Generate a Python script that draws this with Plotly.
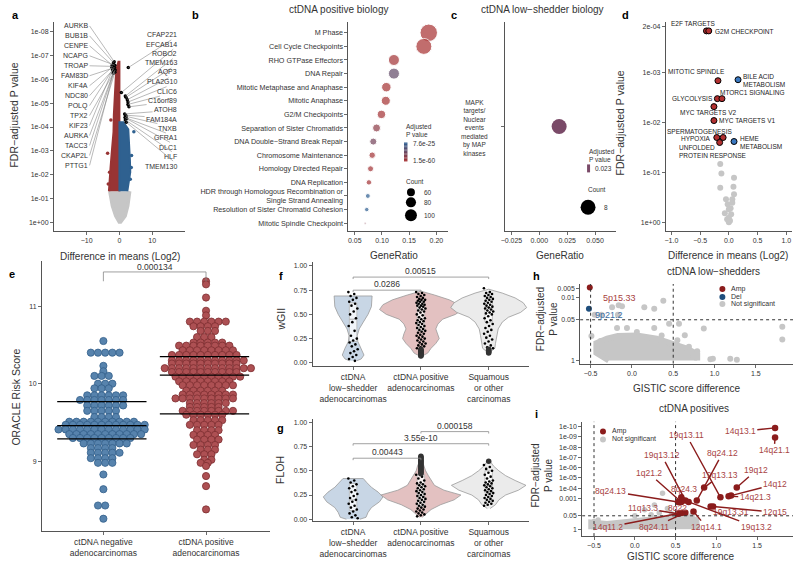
import plotly.graph_objects as go

W, H = 800, 570
FONT = "Liberation Sans"
INK = "#2b2b2b"
TXT = "#333333"
RED = "#983434"
BLUE = "#2f6190"
GREY = "#c6c6c6"

# ======================= DATA =======================
# a: volcano (difference in means log2 vs -log10 FDR)
a_red_edge_y = [1.3, 1.6, 2.3, 3.0, 3.8, 4.5, 5.1, 5.7, 6.1, 6.5, 6.75]
a_red_edge_x = [-3.2, -3.0, -2.7, -2.3, -1.8, -1.7, -1.5, -1.3, -1.1, -0.8, -0.3]
a_blue_edge_y = [1.3, 1.8, 2.1, 2.6, 3.05, 3.5, 3.9, 4.2]
a_blue_edge_x = [2.4, 3.0, 3.3, 3.2, 3.0, 2.9, 2.7, 1.2]
a_grey_edge_y = [1.3, 1.0, 0.68, 0.26, 0.0]
a_grey_edge_xl = [-3.0, -2.6, -2.2, -1.2, -0.1]
a_grey_edge_xr = [3.2, 3.0, 2.6, 1.8, 0.4]
a_red_out_x = [-3.6, -3.0, -3.4, -2.6]
a_red_out_y = [2.9, 2.1, 1.6, 4.3]
a_blue_out_x = [4.4, 3.7, 3.3, 3.6]
a_blue_out_y = [3.8, 2.8, 1.8, 2.3]
a_left_genes = ["AURKB", "BUB1B", "CENPE", "NCAPG", "TROAP", "FAM83D", "KIF4A", "NDC80",
                "POLQ", "TPX2", "KIF23", "AURKA", "TACC3", "CKAP2L", "PTTG1"]
a_left_x = [-1.6, -1.8, -2.2, -1.4, -2.0, -1.5, -2.3, -1.7, -1.9, -1.3, -2.1, -1.6, -1.8, -1.4, -1.9]
a_left_y = [6.75, 6.7, 6.6, 6.6, 6.55, 6.5, 6.5, 6.45, 6.45, 6.4, 6.4, 6.35, 6.3, 6.3, 6.25]
a_right_genes = ["CFAP221", "EFCAB14", "ROBO2", "TMEM163", "AQP3", "PLA2G10", "CLIC6", "C16orf89",
                 "ATOH8", "FAM184A", "TNXB", "GFRA1", "DLC1", "HLF", "TMEM130"]
a_right_x = [2.7, 0.6, 1.8, 2.0, 2.4, 2.6, 2.6, 2.9, 1.6, 1.9, 2.0, 1.7, 2.2, 1.8, 2.1]
a_right_y = [6.5, 5.45, 5.3, 5.25, 5.15, 5.05, 4.95, 4.85, 4.55, 4.5, 4.45, 4.4, 4.35, 4.3, 4.2]
a_ytick_exp = [0, 1, 2, 3, 4, 5, 6, 7, 8]

# b: ctDNA positive biology (Reactome enrichment)
b_terms = ["M Phase", "Cell Cycle Checkpoints", "RHO GTPase Effectors", "DNA Repair",
           "Mitotic Metaphase and Anaphase", "Mitotic Anaphase", "G2/M Checkpoints",
           "Separation of Sister Chromatids", "DNA Double−Strand Break Repair",
           "Chromosome Maintenance", "Homology Directed Repair", "DNA Replication",
           "HDR through Homologous Recombination or<br>Single Strand Annealing",
           "Resolution of Sister Chromatid Cohesion", "Mitotic Spindle Checkpoint"]
b_ratio = [0.186, 0.177, 0.122, 0.122, 0.108, 0.107, 0.099, 0.090, 0.084, 0.082, 0.079, 0.076, 0.074, 0.072, 0.069]
b_count = [181, 156, 89, 89, 73, 69, 64, 60, 53, 49, 46, 43, 40, 38, 30]
b_log10_padj = [-59.5, -59.8, -58, -40, -59, -59, -58.5, -52, -45, -58, -58, -58.5, -25, -25, -50]
b_cbar_vals = [-24.1, -59.8]
b_cbar_text = ["7.6e-25", "1.5e-60"]
b_legend_counts = [60, 80, 100]

# c: ctDNA low-shedder biology
c_term = "MAPK<br>targets/<br>Nuclear<br>events<br>mediated<br>by MAP<br>kinases"
c_ratio = [0.0178]
c_count = [8]
c_padj = "0.023"

# d: hallmark volcano
d_names = ["E2F TARGETS", "G2M CHECKPOINT", "MITOTIC SPINDLE", "BILE ACID<br>METABOLISM", "GLYCOLYSIS",
           "MTORC1 SIGNALING", "MYC TARGETS V2", "MYC TARGETS V1", "SPERMATOGENESIS", "HYPOXIA",
           "UNFOLDED<br>PROTEIN RESPONSE", "HEME<br>METABOLISM"]
d_x = [-0.39, -0.35, -0.19, 0.16, -0.20, -0.12, -0.26, -0.26, -0.21, -0.10, -0.16, 0.09]
d_y = [3.84, 3.84, 2.84, 2.86, 2.48, 2.48, 2.32, 2.04, 1.70, 1.70, 1.60, 1.62]
d_up = [1, 1, 1, 0, 1, 1, 1, 1, 1, 1, 1, 0]
d_ns_x = [-0.15, -0.13, 0.09, -0.15, 0.08, 0.09, 0.06, -0.05, 0.06, -0.02, 0.03, 0.0, -0.07, 0.04, 0.0, -0.03, 0.02, 0.0]
d_ns_y = [1.17, 0.98, 0.89, 0.69, 0.71, 0.56, 0.46, 0.46, 0.39, 0.36, 0.28, 0.26, 0.18, 0.16, 0.09, 0.06, 0.03, 0.0]
d_ytick_vals = [0, 1, 2, 3, 3.92]
d_ytick_text = ["1e+00", "1e-01", "1e-02", "1e-03", "2e-04"]

# e: ORACLE risk score beeswarm (value, number of patients at that level)
e_neg_vals = [10.55, 10.40, 10.23, 10.16, 10.10, 10.00, 9.94, 9.85, 9.79, 9.72, 9.65, 9.57, 9.51, 9.47,
              9.41, 9.35, 9.30, 9.23, 9.17, 9.11, 9.04, 8.98, 8.83, 8.64, 8.43, 8.26]
e_neg_n = [1, 5, 1, 1, 3, 3, 3, 6, 7, 6, 5, 4, 10, 12, 13, 11, 9, 7, 4, 5, 4, 3, 1, 1, 2, 1]
e_pos_vals = [11.32, 11.28, 11.11, 10.94, 10.88, 10.80, 10.74, 10.68, 10.60, 10.53, 10.49, 10.43, 10.37,
              10.30, 10.26, 10.20, 10.15, 10.09, 10.03, 9.98, 9.91, 9.86, 9.81, 9.75, 9.70, 9.65, 9.60,
              9.53, 9.47, 9.40, 9.34, 9.28, 9.21, 9.15, 9.09, 9.02, 8.98, 8.94, 8.81, 8.68, 8.38]
e_pos_n = [1, 1, 1, 1, 1, 6, 4, 3, 3, 5, 8, 8, 10, 11, 10, 13, 10, 10, 8, 8, 6, 8, 9, 6, 5, 8, 6,
           5, 5, 4, 4, 4, 4, 3, 3, 2, 2, 1, 1, 1, 1]
e_neg_quart = [9.29, 9.46, 9.77]
e_pos_quart = [9.61, 10.11, 10.35]
e_cats = ["ctDNA negative<br>adenocarcinomas", "ctDNA positive<br>adenocarcinomas"]
e_pval = "0.000134"

# f/g: wGII and FLOH violins
fg_cats = ["ctDNA<br>low−shedder<br>adenocarcinomas", "ctDNA positive<br>adenocarcinomas", "Squamous<br>or other<br>carcinomas"]
f_v_y = [[0.02, 0.04, 0.08, 0.15, 0.22, 0.28, 0.35, 0.42, 0.50, 0.58, 0.65, 0.69],
         [0.07, 0.10, 0.15, 0.20, 0.25, 0.30, 0.35, 0.40, 0.45, 0.50, 0.55, 0.60, 0.65, 0.70, 0.74],
         [0.11, 0.15, 0.20, 0.28, 0.35, 0.42, 0.47, 0.52, 0.57, 0.62, 0.67, 0.72, 0.76]]
f_v_dens = [[0.05, 0.12, 0.16, 0.12, 0.07, 0.06, 0.09, 0.15, 0.22, 0.27, 0.28, 0.28],
            [0.02, 0.10, 0.15, 0.22, 0.27, 0.25, 0.22, 0.25, 0.32, 0.51, 0.61, 0.56, 0.42, 0.20, 0.0],
            [0.02, 0.09, 0.10, 0.12, 0.14, 0.20, 0.29, 0.47, 0.56, 0.51, 0.39, 0.20, 0.0]]
g_v_y = [[0.0, 0.02, 0.07, 0.12, 0.18, 0.23, 0.28, 0.33, 0.38, 0.42],
         [0.02, 0.05, 0.10, 0.15, 0.20, 0.25, 0.30, 0.35, 0.40, 0.45, 0.50, 0.55, 0.60, 0.63],
         [0.11, 0.15, 0.20, 0.25, 0.30, 0.35, 0.40, 0.45, 0.50, 0.55, 0.60, 0.62]]
g_v_dens = [[0.10, 0.19, 0.22, 0.27, 0.39, 0.44, 0.37, 0.27, 0.20, 0.15],
            [0.02, 0.07, 0.15, 0.29, 0.49, 0.59, 0.34, 0.20, 0.15, 0.11, 0.07, 0.05, 0.02, 0.0],
            [0.02, 0.10, 0.15, 0.25, 0.44, 0.55, 0.39, 0.25, 0.15, 0.07, 0.02, 0.0]]
f_q1 = [0.22, 0.33, 0.42]
f_med = [0.45, 0.55, 0.57]
f_q3 = [0.62, 0.64, 0.65]
g_q1 = [0.09, 0.13, 0.27]
g_med = [0.20, 0.24, 0.35]
g_q3 = [0.37, 0.46, 0.50]
f_pts = [[0.73, 0.71, 0.69, 0.67, 0.65, 0.63, 0.61, 0.59, 0.56, 0.53, 0.50, 0.46, 0.42, 0.38, 0.33, 0.28,
          0.25, 0.23, 0.21, 0.19, 0.17, 0.14, 0.12, 0.10, 0.08, 0.06, 0.04, 0.02],
         [0.73, 0.72, 0.71, 0.70, 0.69, 0.68, 0.67, 0.66, 0.65, 0.65, 0.64, 0.63, 0.63, 0.62, 0.61, 0.61,
          0.60, 0.59, 0.59, 0.58, 0.57, 0.56, 0.55, 0.54, 0.53, 0.52, 0.50, 0.49, 0.47, 0.46, 0.45, 0.44,
          0.43, 0.42, 0.41, 0.40, 0.39, 0.38, 0.37, 0.36, 0.35, 0.34, 0.33, 0.32, 0.31, 0.30, 0.29, 0.28,
          0.27, 0.26, 0.25, 0.24, 0.23, 0.22, 0.21, 0.20, 0.19, 0.18, 0.17, 0.16, 0.15],
         [0.77, 0.73, 0.72, 0.71, 0.70, 0.69, 0.68, 0.67, 0.66, 0.65, 0.64, 0.63, 0.62, 0.61, 0.60, 0.59,
          0.58, 0.57, 0.56, 0.55, 0.54, 0.53, 0.52, 0.51, 0.50, 0.48, 0.46, 0.44, 0.42, 0.40, 0.38, 0.36,
          0.34, 0.32, 0.30, 0.28, 0.26, 0.24, 0.22, 0.20, 0.18, 0.16, 0.15]]
f_out = [[], [0.14, 0.13, 0.125, 0.12, 0.11, 0.10, 0.095, 0.09, 0.08, 0.075, 0.07],
         [0.14, 0.13, 0.12, 0.11, 0.10]]
g_pts = [[0.42, 0.40, 0.38, 0.36, 0.34, 0.32, 0.30, 0.28, 0.26, 0.24, 0.22, 0.20, 0.18, 0.16, 0.14, 0.12,
          0.10, 0.08, 0.06, 0.04, 0.02, 0.01],
         [0.46, 0.44, 0.42, 0.40, 0.38, 0.37, 0.36, 0.35, 0.34, 0.33, 0.32, 0.31, 0.30, 0.29, 0.28, 0.27,
          0.26, 0.25, 0.24, 0.23, 0.22, 0.21, 0.20, 0.19, 0.18, 0.17, 0.16, 0.15, 0.14, 0.13, 0.12, 0.11,
          0.10, 0.09, 0.08, 0.07, 0.06, 0.05, 0.04, 0.03],
         [0.56, 0.54, 0.52, 0.50, 0.48, 0.46, 0.44, 0.42, 0.40, 0.39, 0.38, 0.37, 0.36, 0.35, 0.34, 0.33,
          0.32, 0.31, 0.30, 0.29, 0.28, 0.27, 0.26, 0.25, 0.24, 0.23, 0.22, 0.21, 0.20, 0.19, 0.18, 0.17,
          0.16, 0.15, 0.14]]
g_out = [[], [0.65, 0.64, 0.63, 0.62, 0.61, 0.60, 0.59, 0.58, 0.57, 0.56, 0.55, 0.54, 0.53, 0.52, 0.51,
              0.50, 0.49, 0.48, 0.47], [0.60]]
f_brackets = [(1, 2, 0.75, "0.0286"), (1, 3, 0.885, "0.00515")]
g_brackets = [(1, 2, 0.63, "0.00443"), (1, 3, 0.78, "3.55e-10"), (2, 3, 0.905, "0.000158")]

# h: GISTIC, ctDNA low-shedders (x = score difference, y = -log10 FDR)
h_amp_x, h_amp_y, h_amp_lab = [-0.51], [2.33], ["5p15.33"]
h_del_x, h_del_y, h_del_lab = [-0.52], [1.65], ["9p21.2"]
h_ns_x = [-0.49, -0.45, -0.37, -0.24, -0.16, -0.12, -0.17, 0.15, 0.27, 0.38, -0.18, -0.06, 0.06, 0.27, 0.57,
          0.45, 0.87, 1.82, 1.82, 0.64, 0.69, 0.79, 0.95, 0.98, 1.19, 1.27, 0.74, 0.55, -0.38, 0.36]
h_ns_y = [0.78, 1.46, 1.46, 1.70, 1.76, 1.73, 1.46, 1.70, 1.65, 1.91, 1.04, 1.04, 0.91, 1.04, 1.17,
          1.17, 1.02, 1.08, 0.67, 0.81, 0.44, 0.30, 0.04, 0.06, 0.06, 0.03, 0.12, 0.65, 0.62, 0.80]
h_blob_x = [-0.28, -0.43, -0.43, -0.30, -0.17, 0.06, 0.30, 0.51, 0.67, 0.79, 0.79]
h_blob_y = [0.00, 0.25, 0.55, 0.70, 0.78, 0.80, 0.70, 0.54, 0.38, 0.20, 0.00]

# i: GISTIC, ctDNA positives
i_amp_lab = ["14q13.1", "14q21.1", "19q12", "14q12", "14q21.3", "19q13.11", "19q13.13", "8q24.12",
             "19q13.31", "12q15", "12q14.1", "19q13.12", "1q21.2", "8q24.13", "8q24.3", "19q13.2",
             "11q13.3", "8q22", "8q24.11", "14q11.2"]
i_amp_x = [1.72, 1.72, 1.25, 1.18, 1.15, 1.05, 0.85, 0.76, 0.93, 0.96, 0.72, 0.62, 0.57, 0.53, 0.57, 0.66,
           0.53, 0.58, 0.62, 0.55]
i_amp_y = [9.87, 8.93, 4.05, 3.27, 3.20, 3.10, 4.05, 2.78, 2.20, 2.20, 1.72, 2.80, 2.65, 2.65, 3.10, 2.65,
           1.50, 1.60, 1.60, 1.55]
i_ns_x = [0.34, 0.24, 0.12, 0.40, 0.30, 0.45, -0.45, 0.0, -0.50, 0.70, 0.20]
i_ns_y = [3.50, 2.36, 1.90, 2.00, 1.60, 1.50, 0.90, 1.30, 0.75, 1.35, 1.40]
i_blob_x = [-0.54, -0.54, -0.34, -0.14, 0.06, 0.27, 0.47, 0.67, 0.76, 0.77]
i_blob_y = [0.0, 0.70, 0.55, 0.72, 0.90, 1.05, 1.20, 1.15, 0.90, 0.0]
i_ytick_vals = [0, 1.301, 3, 4, 5, 6, 7, 8, 9, 10]
i_ytick_text = ["1", "0.05", "0.001", "1e-04", "1e-05", "1e-06", "1e-07", "1e-08", "1e-09", "1e-10"]
h_ytick_vals = [0, 1.301, 2, 2.301]
h_ytick_text = ["1", "0.05", "0.01", "0.005"]
gistic_xticks = [-0.5, 0, 0.5, 1.0, 1.5]

# ======================= FIGURE =======================
fig = go.Figure()
axes, P, ann, shapes = {}, {}, [], []


def panel(key, n, box, xr, yr, xkw=None, ykw=None):
    x0, x1, y0, y1 = box
    s = '' if n == 1 else str(n)
    base = dict(showline=True, linecolor=INK, linewidth=0.8, ticks='outside', ticklen=3, tickwidth=0.7,
                tickcolor=INK, showgrid=False, zeroline=False, fixedrange=True, layer='above traces',
                tickangle=0, tickfont=dict(family=FONT, size=7, color=TXT))
    xa = dict(base, domain=[x0 / W, x1 / W], range=list(xr), anchor='y' + s)
    ya = dict(base, domain=[1 - y1 / H, 1 - y0 / H], range=list(yr), anchor='x' + s)
    if xkw:
        xa.update(xkw)
    if ykw:
        ya.update(ykw)
    axes['xaxis' + s] = xa
    axes['yaxis' + s] = ya
    P[key] = dict(x='x' + s, y='y' + s, box=box, xr=xr, yr=yr)


def p2d(key, px, py):
    x0, x1, y0, y1 = P[key]['box']
    xr, yr = P[key]['xr'], P[key]['yr']
    return (xr[0] + (px - x0) / (x1 - x0) * (xr[1] - xr[0]),
            yr[0] + (y1 - py) / (y1 - y0) * (yr[1] - yr[0]))


def add(key, **kw):
    fig.add_trace(go.Scatter(xaxis=P[key]['x'], yaxis=P[key]['y'], hoverinfo='skip', showlegend=False, **kw))


def txt(px, py, s, size=8, color=TXT, xanchor='center', yanchor='middle', bold=False, angle=0, align='center'):
    ann.append(dict(x=px / W, y=1 - py / H, xref='paper', yref='paper', text=(f"<b>{s}</b>" if bold else s),
                    showarrow=False, font=dict(family=FONT, size=size, color=color), xanchor=xanchor,
                    yanchor=yanchor, textangle=angle, align=align))


def dtxt(key, x, y, s, size=7, color=TXT, xanchor='center', align='left'):
    ann.append(dict(x=x, y=y, xref=P[key]['x'], yref=P[key]['y'], text=s, showarrow=False, align=align,
                    font=dict(family=FONT, size=size, color=color), xanchor=xanchor, yanchor='middle'))


def poly(key, xs, ys, color, lw=2.0, line_color=None):
    add(key, x=xs, y=ys, mode='lines', fill='toself', fillcolor=color,
        line=dict(color=line_color or color, width=lw))


def hex2rgb(h):
    h = h.lstrip('#')
    return [int(h[i:i + 2], 16) for i in (0, 2, 4)]


def mix(c0, c1, t):
    a, b = hex2rgb(c0), hex2rgb(c1)
    return 'rgb(%d,%d,%d)' % tuple(round(a[i] + (b[i] - a[i]) * t) for i in range(3))


small = dict(family=FONT, size=7, color=TXT)

# ---------- panel a ----------
panel('a', 1, (50, 182, 22, 232), (-20, 20), (-0.38, 8.42),
      xkw=dict(tickvals=[-10, 0, 10]),
      ykw=dict(tickvals=a_ytick_exp, ticktext=[("1e+00" if k == 0 else f"1e-{k:02d}") for k in a_ytick_exp]))
poly('a', a_grey_edge_xl + a_grey_edge_xr[::-1], a_grey_edge_y + a_grey_edge_y[::-1], GREY, 3)
poly('a', a_red_edge_x + [0, 0], a_red_edge_y + [a_red_edge_y[-1], a_red_edge_y[0]], RED, 2)
poly('a', a_blue_edge_x + [0, 0], a_blue_edge_y + [a_blue_edge_y[-1], a_blue_edge_y[0]], BLUE, 2)
add('a', x=a_red_out_x, y=a_red_out_y, mode='markers', marker=dict(size=3.5, color=RED))
add('a', x=a_blue_out_x, y=a_blue_out_y, mode='markers', marker=dict(size=3.5, color=BLUE))
for k, (g, x, y) in enumerate(zip(a_left_genes, a_left_x, a_left_y)):
    lx, ly = p2d('a', 86, 26 + 10 * k)
    ann.append(dict(x=x, y=y, xref='x', yref='y', ax=lx, ay=ly, axref='x', ayref='y', text=g, showarrow=True,
                    arrowhead=0, arrowwidth=0.6, arrowcolor='#8a8a8a', xanchor='right', font=small))
for k, (g, x, y) in enumerate(zip(a_right_genes, a_right_x, a_right_y)):
    lx, ly = p2d('a', 176, 35 + 9.4 * k)
    ann.append(dict(x=x, y=y, xref='x', yref='y', ax=lx, ay=ly, axref='x', ayref='y', text=g, showarrow=True,
                    arrowhead=0, arrowwidth=0.6, arrowcolor='#8a8a8a', xanchor='right', font=small))
add('a', x=a_left_x + a_right_x, y=a_left_y + a_right_y, mode='markers', marker=dict(size=3.5, color='black'))
txt(10, 115, "FDR−adjusted P value", size=10.5, angle=-90)
txt(117, 257, "Difference in means (Log2)", size=10)
txt(12, 15, "a", size=11, bold=True, color='black')

# ---------- panel b ----------
nb = len(b_terms)
b_pos = [nb - k for k in range(nb)]
B_LO, B_HI = '#a83030', '#2a5f93'


def bsize(c):
    return 1.414 * max(c - 28, 1) ** 0.5


panel('b', 2, (346, 446, 22, 232), (0.038, 0.221), (0.41, 15.8),
      xkw=dict(tickvals=[0.05, 0.10, 0.15, 0.20], ticktext=["0.05", "0.10", "0.15", "0.20"]),
      ykw=dict(tickvals=b_pos, ticktext=b_terms, tickfont=dict(family=FONT, size=7.2, color=TXT)))
add('b', x=b_ratio, y=b_pos, mode='markers',
    marker=dict(size=[bsize(c) for c in b_count], color=b_log10_padj, cmin=b_cbar_vals[1], cmax=b_cbar_vals[0],
                colorscale=[[0, B_LO], [1, B_HI]], showscale=False))
# hand-drawn colour bar (top = 7.6e-25, bottom = 1.5e-60)
nseg = 14
for k in range(nseg):
    t0 = k / nseg
    shapes.append(dict(type='rect', xref='paper', yref='paper', x0=402 / W, x1=405.5 / W,
                       y0=1 - (162 - 19 * t0) / H, y1=1 - (162 - 19 * (t0 + 1 / nseg)) / H,
                       fillcolor=mix(B_LO, B_HI, (k + 0.5) / nseg), line=dict(width=0)))
txt(402, 131, "Adjusted<br>P value", size=6.5, xanchor='left', align='left')
txt(409, 144, b_cbar_text[0], size=6.5, xanchor='left')
txt(409, 161, b_cbar_text[1], size=6.5, xanchor='left')
txt(402, 182, "Count", size=6.5, xanchor='left')
for c, cy in zip(b_legend_counts, [193, 203, 216]):
    d = bsize(c)
    shapes.append(dict(type='circle', xref='paper', yref='paper', x0=(409 - d / 2) / W, x1=(409 + d / 2) / W,
                       y0=1 - (cy + d / 2) / H, y1=1 - (cy - d / 2) / H, fillcolor='black', line=dict(width=0)))
    txt(420, cy, str(c), size=6.5, xanchor='left')
txt(337, 10, "ctDNA positive biology", size=10)
txt(392, 256, "GeneRatio", size=10)
txt(192, 15, "b", size=11, bold=True, color='black')

# ---------- panel c ----------
panel('c', 3, (503, 615, 22, 232), (-0.03125, 0.06875), (-1, 1),
      xkw=dict(tickvals=[-0.025, 0, 0.025, 0.05], ticktext=["−0.025", "0.000", "0.025", "0.050"]),
      ykw=dict(tickvals=[0], ticktext=[""]))
C_COL = '#7a4a68'
add('c', x=c_ratio, y=[0], mode='markers', marker=dict(size=15, color=C_COL))
txt(473, 128, c_term, size=6.5)
txt(586, 156, "Adjusted<br>P value", size=6.5, xanchor='left', align='left')
shapes.append(dict(type='rect', xref='paper', yref='paper', x0=586 / W, x1=589 / W, y0=1 - 173 / H, y1=1 - 165 / H,
                   fillcolor=C_COL, line=dict(width=0)))
txt(592, 169, c_padj, size=6.5, xanchor='left')
txt(585, 190, "Count", size=6.5, xanchor='left')
shapes.append(dict(type='circle', xref='paper', yref='paper', x0=(587 - 7.5) / W, x1=(587 + 7.5) / W,
                   y0=1 - (208 + 7.5) / H, y1=1 - (208 - 7.5) / H, fillcolor='black', line=dict(width=0)))
txt(601, 208, str(c_count[0]), size=6.5, xanchor='left')
txt(541, 10, "ctDNA low−shedder biology", size=10)
txt(559, 256, "GeneRatio", size=10)
txt(452, 15, "c", size=11, bold=True, color='black')

# ---------- panel d ----------
panel('d', 4, (665, 792, 22, 232), (-1.1, 1.1), (-0.18, 4.02),
      xkw=dict(tickvals=[-1, -0.5, 0, 0.5, 1], ticktext=["−1.0", "−0.5", "0.0", "0.5", "1.0"]),
      ykw=dict(tickvals=d_ytick_vals, ticktext=d_ytick_text))
add('d', x=d_ns_x, y=d_ns_y, mode='markers', marker=dict(size=6, color=GREY))
add('d', x=d_x, y=d_y, mode='markers',
    marker=dict(size=6, color=['#b23030' if u else '#3a78c0' for u in d_up], line=dict(color='black', width=1)))
d_label_pos = [(668, 24, 'left'), (713, 32, 'left'), (665, 72, 'left'), (741, 81, 'left'), (715, 99, 'right'),
               (718, 93, 'left'), (677, 113, 'left'), (717, 121, 'left'), (664, 132, 'left'), (678, 139, 'left'),
               (676, 152, 'left'), (738, 143, 'left')]
for name, (px, py, xa) in zip(d_names, d_label_pos):
    txt(px, py, name, size=6.5, xanchor=xa, align='left', color='#222')
txt(619, 123, "FDR−adjusted P value", size=10.5, angle=-90)
txt(728, 256, "Difference in means (Log2)", size=10)
txt(625, 15, "d", size=11, bold=True, color='black')

# ---------- panel e ----------
panel('e', 5, (38, 267, 262, 533), (-0.60, 1.62), (8.10, 11.58),
      xkw=dict(tickvals=[0, 1], ticktext=e_cats, tickfont=dict(family=FONT, size=8.5, color=TXT)),
      ykw=dict(tickvals=[9, 10, 11]))
E_STEP = 0.07   # horizontal spacing between neighbouring dots (x units)


def swarm(vals, counts, center):
    """row layout, alternate rows nudged by a quarter step so neighbouring rows interleave"""
    xs, ys = [], []
    for r, (v, n) in enumerate(zip(vals, counts)):
        shift = (E_STEP / 4) * (1 if r % 2 else -1) if n > 1 else 0.0
        for k in range(n):
            xs.append(center + (k - (n - 1) / 2) * E_STEP + shift)
            ys.append(v)
    return xs, ys


ex, ey = swarm(e_neg_vals, e_neg_n, 0)
add('e', x=ex, y=ey, mode='markers', marker=dict(size=7.2, color='#5783ad', line=dict(color='#33608a', width=0.8)))
ex, ey = swarm(e_pos_vals, e_pos_n, 1)
add('e', x=ex, y=ey, mode='markers', marker=dict(size=7.2, color='#ad5053', line=dict(color='#7e2e31', width=0.8)))
for cx, qs in ((0, e_neg_quart), (1, e_pos_quart)):
    for q in qs:
        shapes.append(dict(type='line', xref='x5', yref='y5', x0=cx - 0.45, x1=cx + 0.42, y0=q, y1=q,
                           line=dict(color='black', width=1.3)))
for (xa_, ya_, xb_, yb_) in ((0, 11.32, 0, 11.44), (0, 11.44, 1, 11.44), (1, 11.44, 1, 11.32)):
    shapes.append(dict(type='line', xref='x5', yref='y5', x0=xa_, y0=ya_, x1=xb_, y1=yb_,
                       line=dict(color='#888', width=0.8)))
ann.append(dict(x=0.5, y=11.51, xref='x5', yref='y5', text=e_pval, showarrow=False,
                font=dict(family=FONT, size=8.5, color=TXT), yanchor='middle'))
txt(12, 398, "ORACLE Risk Score", size=10.5, angle=-90)
txt(8, 275, "e", size=11, bold=True, color='black')

# ---------- panels f, g ----------
VCOL = ['#c8d6e5', '#e3c1c1', '#ebebeb']


def violin_panel(key, n, box, yr, v_y, v_d, q1, med, q3, pts, outs, brackets, ytitle, ty, letter, ly):
    panel(key, n, box, (0.4, 3.6), yr,
          xkw=dict(tickvals=[1, 2, 3], ticktext=fg_cats, tickfont=dict(family=FONT, size=8.5, color=TXT)),
          ykw=dict(tickvals=[0, 0.25, 0.5, 0.75, 1.0], ticktext=["0.00", "0.25", "0.50", "0.75", "1.00"]))
    for k in range(3):
        c = k + 1
        xs = [c + w for w in v_d[k]] + [c - w for w in v_d[k][::-1]]
        ys = v_y[k] + v_y[k][::-1]
        poly(key, xs, ys, VCOL[k], 0.8, '#9a9a9a')
    for k in range(3):
        c = k + 1
        add(key, x=[c - 0.055, c + 0.055, c + 0.055, c - 0.055, c - 0.055], y=[q1[k], q1[k], q3[k], q3[k], q1[k]],
            mode='lines', fill='toself', fillcolor='rgba(255,255,255,0.75)', line=dict(color='#b0b0b0', width=0.7))
        add(key, x=[c - 0.055, c + 0.055], y=[med[k], med[k]], mode='lines', line=dict(color='#b0b0b0', width=1))
    for k in range(3):
        c = k + 1
        xs = [c + (((j * 0.618034) % 1) - 0.5) * 0.14 for j in range(len(pts[k]))]
        add(key, x=xs, y=pts[k], mode='markers', marker=dict(size=2.6, color='black'))
        if outs[k]:
            add(key, x=[c] * len(outs[k]), y=outs[k], mode='markers', marker=dict(size=5.5, color='#333333'))
    for a, b, yb, lab in brackets:
        for (xa_, ya_, xb_, yb_) in ((a, yb - 0.02, a, yb), (a, yb, b, yb), (b, yb, b, yb - 0.02)):
            shapes.append(dict(type='line', xref=P[key]['x'], yref=P[key]['y'], x0=xa_, y0=ya_, x1=xb_, y1=yb_,
                               line=dict(color='#8a8a8a', width=0.8)))
        ann.append(dict(x=(a + b) / 2, y=yb, xref=P[key]['x'], yref=P[key]['y'], text=lab, showarrow=False,
                        font=dict(family=FONT, size=8.5, color=TXT), yanchor='bottom', yshift=-1))
    txt(278, ty, ytitle, size=10.5, angle=-90)
    txt(278, ly, letter, size=11, bold=True, color='black')


violin_panel('f', 6, (310, 528, 263, 367), (-0.03, 1.04), f_v_y, f_v_dens, f_q1, f_med, f_q3, f_pts, f_out,
             f_brackets, "wGII", 320, "f", 277)
violin_panel('g', 7, (310, 528, 420, 523), (-0.02, 1.04), g_v_y, g_v_dens, g_q1, g_med, g_q3, g_pts, g_out,
             g_brackets, "FLOH", 472, "g", 430)

# ---------- panel h ----------
gx = dict(tickvals=gistic_xticks, ticktext=["−0.5", "0.0", "0.5", "1.0", "1.5"])
panel('h', 8, (579, 793, 285, 365), (-0.627, 1.95), (-0.1, 2.44),
      xkw=gx, ykw=dict(tickvals=h_ytick_vals, ticktext=h_ytick_text))
poly('h', h_blob_x, h_blob_y, GREY, 6)
add('h', x=h_ns_x, y=h_ns_y, mode='markers', marker=dict(size=6, color=GREY))
add('h', x=h_amp_x, y=h_amp_y, mode='markers', marker=dict(size=6, color='#8b1c1c'))
add('h', x=h_del_x, y=h_del_y, mode='markers', marker=dict(size=6, color='#1f4e7d'))
dtxt('h', -0.38, 1.98, h_amp_lab[0], size=9, color='#a84040', xanchor='left')
dtxt('h', -0.47, 1.45, h_del_lab[0], size=9, color='#3a6ea5', xanchor='left')
txt(713, 272, "ctDNA low−shedders", size=10)
txt(686, 390, "GISTIC score difference", size=10)
txt(546, 320, "FDR−adjusted<br>P value", size=10, angle=-90)
txt(535, 277, "h", size=11, bold=True, color='black')
for cy, col, lab in ((290, '#8b1c1c', "Amp"), (298, '#1f4e7d', "Del"), (305, GREY, "Not significant")):
    shapes.append(dict(type='circle', xref='paper', yref='paper', x0=719 / W, x1=725 / W, y0=1 - (cy + 3) / H,
                       y1=1 - (cy - 3) / H, fillcolor=col, line=dict(width=0)))
    txt(729, cy, lab, size=7, xanchor='left')

# ---------- panel i ----------
panel('i', 9, (581, 793, 423, 538), (-0.646, 1.94), (-0.68, 10.49),
      xkw=gx, ykw=dict(tickvals=i_ytick_vals, ticktext=i_ytick_text))
poly('i', i_blob_x, i_blob_y, GREY, 5)
add('i', x=i_ns_x, y=i_ns_y, mode='markers', marker=dict(size=5.5, color=GREY))
add('i', x=i_amp_x, y=i_amp_y, mode='markers', marker=dict(size=6.5, color='#8b1c1c'))
i_label_px = [(740, 433), (774, 452), (756, 472), (775, 486), (755, 499), (686, 437), (720, 477), (722, 455),
              (731, 514), (775, 514), (706, 529), (661, 457), (648, 475), (610, 493), (683, 491), (756, 529),
              (642, 510), (677, 510), (653, 529), (607, 529)]
for lab, x, y, (px, py) in zip(i_amp_lab, i_amp_x, i_amp_y, i_label_px):
    lx, ly = p2d('i', px, py)
    ann.append(dict(x=x, y=y, xref='x9', yref='y9', ax=lx, ay=ly, axref='x9', ayref='y9', text=lab,
                    showarrow=True, arrowhead=0, arrowwidth=1.4, arrowcolor='#8b1c1c',
                    font=dict(family=FONT, size=8.5, color='#a84444')))
txt(693, 410, "ctDNA positives", size=10)
txt(680, 558, "GISTIC score difference", size=10)
txt(541, 477, "FDR−adjusted<br>P value", size=10, angle=-90)
txt(535, 415, "i", size=11, bold=True, color='black')
for cy, col, lab in ((433, '#8b1c1c', "Amp"), (441, GREY, "Not significant")):
    shapes.append(dict(type='circle', xref='paper', yref='paper', x0=599 / W, x1=605 / W, y0=1 - (cy + 3) / H,
                       y1=1 - (cy - 3) / H, fillcolor=col, line=dict(width=0)))
    txt(609, cy, lab, size=7, xanchor='left')

# dotted threshold lines for h and i
for key in ('h', 'i'):
    xr_, yr_ = P[key]['xr'], P[key]['yr']
    for xv in (-0.5, 0.5):
        shapes.append(dict(type='line', xref=P[key]['x'], yref=P[key]['y'], x0=xv, x1=xv, y0=yr_[0], y1=yr_[1],
                           line=dict(color='#333', width=1, dash='dot')))
    shapes.append(dict(type='line', xref=P[key]['x'], yref=P[key]['y'], x0=xr_[0], x1=xr_[1],
                       y0=1.301, y1=1.301, line=dict(color='#333', width=1, dash='dot')))

fig.update_layout(width=W, height=H, margin=dict(l=0, r=0, t=0, b=0), paper_bgcolor='white',
                  plot_bgcolor='white', showlegend=False, annotations=ann, shapes=shapes,
                  font=dict(family=FONT, color=TXT), **axes)
fig.write_html("out.html", config={'displayModeBar': False, 'staticPlot': True},
               post_script="document.body.style.margin='0';document.body.style.overflow='hidden';")
